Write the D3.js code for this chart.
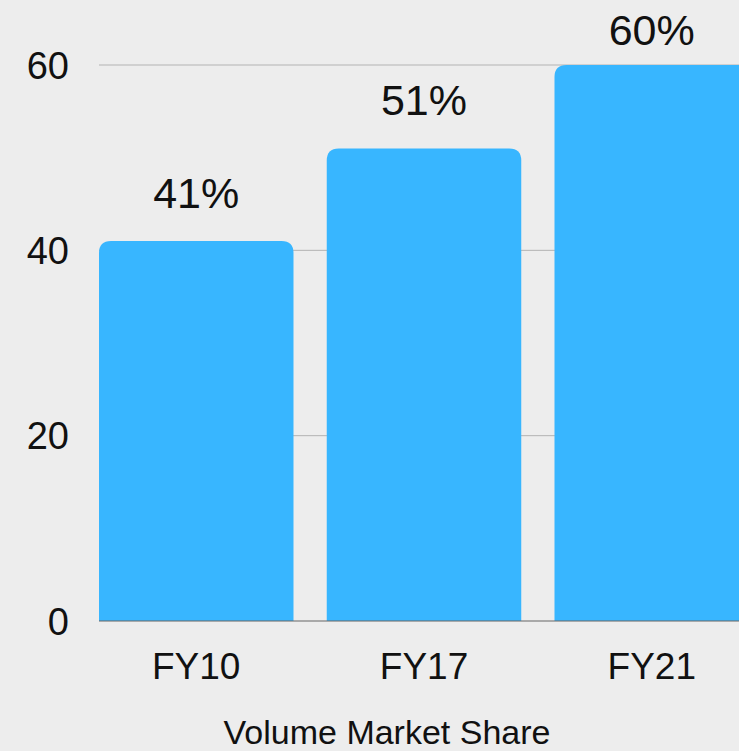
<!DOCTYPE html>
<html>
<head>
<meta charset="utf-8">
<script src="https://cdn.jsdelivr.net/npm/d3@7"></script>
<style>
  html, body { margin: 0; padding: 0; background: #ededed; }
  svg { display: block; }
  text { font-family: "Liberation Sans", Arial, sans-serif; fill: #111; }
</style>
</head>
<body>
<svg id="chart" width="739" height="751"></svg>
<script>
// Volume market share by fiscal year
const years = ["FY10", "FY17", "FY21"];
const shares = [41, 51, 60];
const yTicks = [0, 20, 40, 60];
const axisTitle = "Volume Market Share";

const W = 739, H = 751;
const svg = d3.select("#chart");

svg.append("rect").attr("width", W).attr("height", H).attr("fill", "#ededed");

const x = d3.scaleBand()
  .domain(years)
  .range([99, 749])
  .paddingInner(0.146)
  .paddingOuter(0);

const y = d3.scaleLinear().domain([0, 60]).range([621, 65]);

// horizontal gridlines
svg.append("g")
  .selectAll("line")
  .data(yTicks.filter(t => t > 0))
  .join("line")
  .attr("x1", 99).attr("x2", W)
  .attr("y1", d => y(d)).attr("y2", d => y(d))
  .attr("stroke", "#b3b3b3").attr("stroke-width", 1);

// y tick labels
svg.append("g")
  .selectAll("text")
  .data(yTicks)
  .join("text")
  .attr("x", 69)
  .attr("y", d => y(d))
  .attr("dy", "0.36em")
  .attr("text-anchor", "end")
  .attr("font-size", 38)
  .text(d => d);

// bars with rounded top corners
const r = 12;
function barPath(x0, w, yTop, yBase) {
  return `M${x0},${yBase}V${yTop + r}Q${x0},${yTop} ${x0 + r},${yTop}` +
         `H${x0 + w - r}Q${x0 + w},${yTop} ${x0 + w},${yTop + r}V${yBase}Z`;
}
svg.append("g")
  .selectAll("path")
  .data(years.map((k, i) => ({ k, v: shares[i] })))
  .join("path")
  .attr("d", d => barPath(x(d.k), x.bandwidth(), y(d.v), y(0)))
  .attr("fill", "#38b6ff");

// baseline
svg.append("line")
  .attr("x1", 99).attr("x2", W)
  .attr("y1", y(0)).attr("y2", y(0))
  .attr("stroke", "#666").attr("stroke-width", 1.2);

// value labels
svg.append("g")
  .selectAll("text")
  .data(years.map((k, i) => ({ k, v: shares[i] })))
  .join("text")
  .attr("x", d => x(d.k) + x.bandwidth() / 2)
  .attr("y", d => Math.max(y(d.v) - 33, 45))
  .attr("text-anchor", "middle")
  .attr("font-size", 43)
  .text(d => d.v + "%");

// category labels
svg.append("g")
  .selectAll("text")
  .data(years)
  .join("text")
  .attr("x", d => x(d) + x.bandwidth() / 2)
  .attr("y", 679)
  .attr("text-anchor", "middle")
  .attr("font-size", 37)
  .text(d => d);

// axis title
svg.append("text")
  .attr("x", 387)
  .attr("y", 744)
  .attr("text-anchor", "middle")
  .attr("font-size", 34)
  .text(axisTitle);
</script>
</body>
</html>
